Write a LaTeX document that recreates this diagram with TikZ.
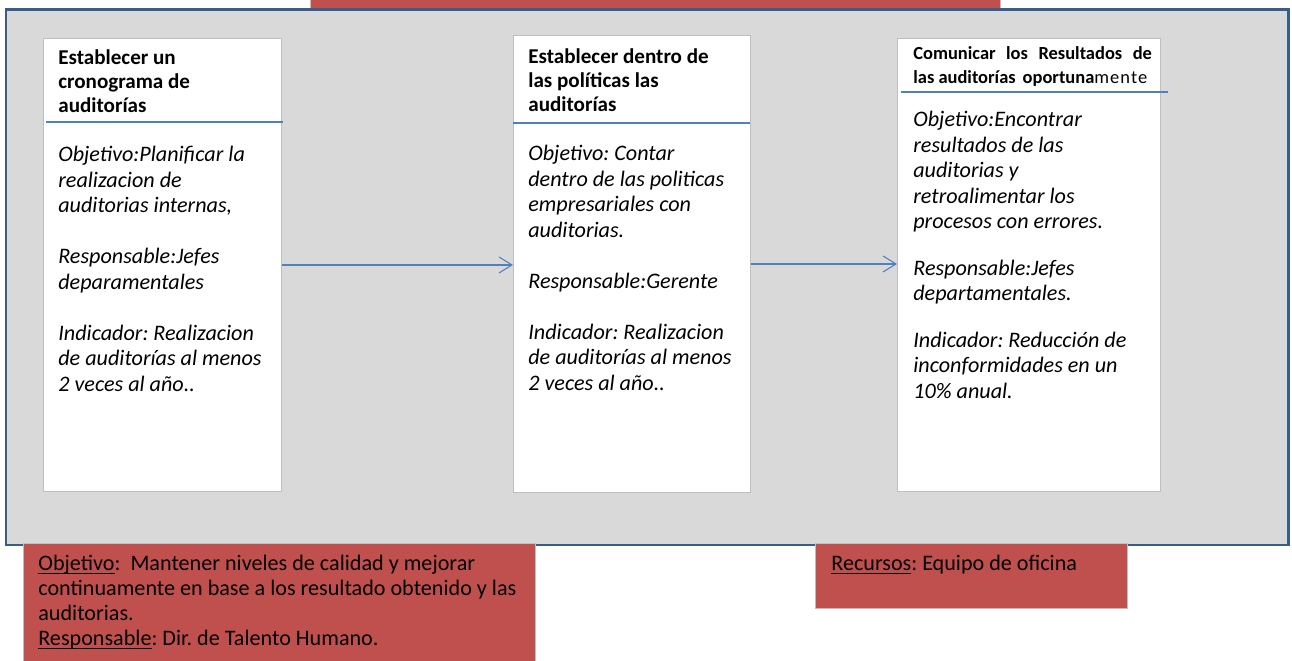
\documentclass[tikz,border=0pt]{standalone}
\usepackage{fontspec}
\setmainfont{Carlito}
\usetikzlibrary{arrows.meta,positioning}
\definecolor{panelgray}{HTML}{D9D9D9}
\definecolor{panelblue}{HTML}{385D8A}
\definecolor{notered}{HTML}{C0504D}
\definecolor{linkblue}{HTML}{4F81BD}
\definecolor{edgegray}{HTML}{BFBFBF}
\newcommand\ulword[1]{\setbox0\hbox{#1}\rlap{\rule[-1.8pt]{\wd0}{0.55pt}}#1}
\tikzset{
	card/.style={draw=edgegray, fill=white, line width=0.6pt, anchor=north west, inner sep=0pt},
	cardhead/.style={anchor=north west, align=left, inner sep=0pt, font=\fontsize{12}{13.9}\selectfont\bfseries},
	cardbody/.style={anchor=north west, align=left, inner sep=0pt, font=\fontsize{12.6}{14.5}\selectfont\itshape},
	headrule/.style={draw=linkblue, line width=0.6pt},
	flowarrow/.style={draw=linkblue, line width=0.6pt, -{Straight Barb[length=2.6mm,width=3.2mm]}},
	notebox/.style={draw=edgegray, fill=notered, line width=0.6pt, anchor=north west, inner sep=0pt},
	notetext/.style={anchor=north west, align=left, inner sep=0pt, font=\fontsize{12.6}{14.2}\selectfont}
}

\begin{document}
\frenchspacing
\begin{tikzpicture}[x=0.02cm, y=-0.02cm]
			%%%%% START %%%%%
			\clip (0, 0) rectangle (1292, 661);
			
			\draw[draw=edgegray, fill=notered] (310, -10) rectangle (1000, 8);
			\draw[draw=panelblue, fill=panelgray, line width=1.7pt] (6, 10) rectangle (1288, 545);
			
			% step cards
			\node[card, minimum width=4.76cm, minimum height=9.06cm] (card1) at (43, 38) {};
			\node[card, minimum width=4.74cm, minimum height=9.14cm] (card2) at (513, 35) {};
			\node[card, minimum width=5.26cm, minimum height=9.06cm] (card3) at (897, 38) {};
			
			\draw[headrule] (46, 122) -- (283, 122);
			\draw[headrule] (513, 123) -- (750, 123);
			\draw[headrule] (901, 92) -- (1168, 92);
			
			\node[cardhead] (head1) at (58, 49) {Establecer un\\cronograma de\\auditorías};
			\node[cardhead] (head2) at (528, 48) {Establecer dentro de\\las políticas las\\auditorías};
			\node[cardhead, font=\fontsize{10.5}{13.6}\selectfont] (head3) at (913, 46)
				{\textbf{Comunicar\hspace{6pt}los\hspace{6pt}Resultados\hspace{6pt}de}\\\textbf{las auditorías\hspace{4pt}oportuna}{\addfontfeature{LetterSpace=6}mente}};
			
			\node[cardbody] (body1) at (58, 146) {Objetivo:Planificar la\\realizacion de\\auditorias internas,\\[14.5pt]Responsable:Jefes\\deparamentales\\[14.5pt]Indicador: Realizacion\\de auditorías al menos\\2 veces al año..};
			\node[cardbody] (body2) at (528, 145) {Objetivo: Contar\\dentro de las politicas\\empresariales con\\auditorias.\\[14.5pt]Responsable:Gerente\\[14.5pt]Indicador: Realizacion\\de auditorías al menos\\2 veces al año..};
			\node[cardbody] (body3) at (913, 111) {Objetivo:Encontrar\\resultados de las\\auditorias y\\retroalimentar los\\procesos con errores.\\[12pt]Responsable:Jefes\\departamentales.\\[12pt]Indicador: Reducción de\\inconformidades en un\\10\% anual.};
			
			\draw[flowarrow] (card1.east) -- (card1.east -| card2.west);
			\draw[flowarrow] (card2.east) -- (card2.east -| card3.west);
			
			% notes below
			\node[notebox, minimum width=10.24cm, minimum height=2.6cm] (goal) at (23, 543) {};
			\node[notebox, minimum width=6.24cm, minimum height=1.3cm] (means) at (815, 543) {};
			
			\node[notetext] (goaltext) at (38, 555) {\ulword{Objetivo}:\ \ Mantener niveles de calidad y mejorar\\continuamente en base a los resultado obtenido y las\\auditorias.\\\ulword{Responsable}: Dir. de Talento Humano.};
			\node[notetext] (meanstext) at (831, 555) {\ulword{Recursos}: Equipo de oficina};
			
			%%%%% END %%%%%
\end{tikzpicture}
\end{document}
